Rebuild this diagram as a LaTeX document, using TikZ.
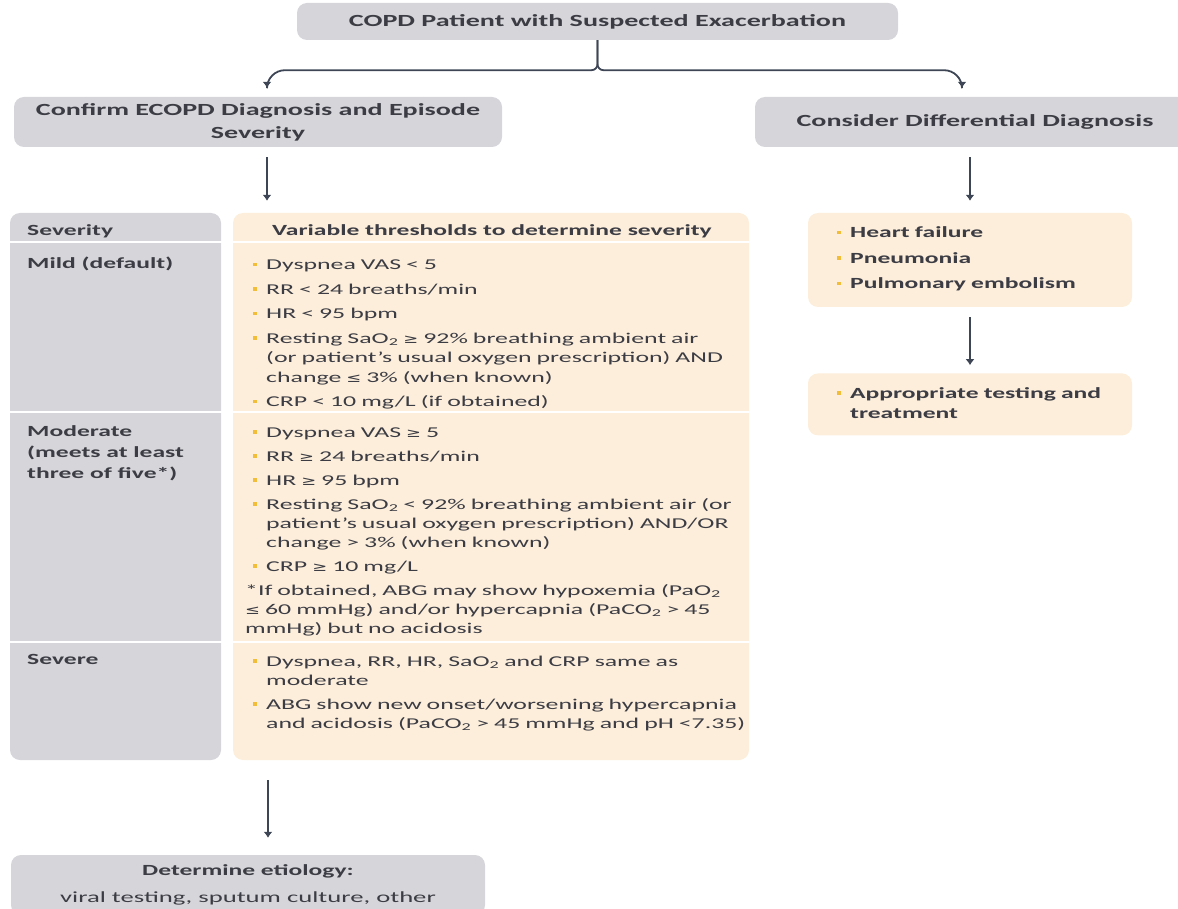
\documentclass[tikz,border=0pt]{standalone}
\usepackage{fontspec}
\setmainfont{Carlito}[FakeStretch=1.72]
\newfontfamily\cabfont{Carlito}[FakeStretch=1.65]
\newfontfamily\symb{DejaVu Sans}[FakeStretch=1.4, Scale=0.85]
\usetikzlibrary{arrows.meta,positioning}
\definecolor{grisCaja}{HTML}{D5D5DA}
\definecolor{beigeCaja}{HTML}{FCEEDA}
\definecolor{textoGris}{HTML}{3C3C44}
\definecolor{vineta}{HTML}{F2BE3A}
\definecolor{lineaOscura}{HTML}{3E4656}
\newcommand{\geqsym}{{\symb ≥}}
\newcommand{\leqsym}{{\symb ≤}}
\newcommand{\dos}{\textsubscript{2}}
\newcommand{\itm}[1]{\par\hangindent=15pt\hangafter=1\noindent\makebox[15pt][l]{\hspace{2pt}\textcolor{vineta}{\rule[3.5pt]{3.5pt}{3.5pt}}}#1}

\begin{document}
\begin{tikzpicture}[x=1pt, y=-1pt,
            node distance=66pt,
            grisbox/.style={fill=grisCaja, rounded corners=10pt, text=textoGris, align=center,
              font=\cabfont\bfseries\fontsize{17}{23}\selectfont},
            beigebox/.style={fill=beigeCaja, rounded corners=10pt},
            lista/.style={text width=520pt, align=left, inner sep=0pt, anchor=north west, text=textoGris,
              font=\fontsize{15}{19}\selectfont, execute at begin node={\setlength{\parskip}{5pt}}},
            etiqueta/.style={inner sep=0pt, anchor=north west, align=left, text=textoGris,
              font=\cabfont\bfseries\fontsize{15.5}{21}\selectfont},
            flecha/.style={-{Latex[length=6pt,width=9pt]}, line width=1.8pt, lineaOscura}
        ]
\useasboundingbox (0,0) rectangle (1178,909);
\clip (0,0) rectangle (1178,909);

% cajas grises de cabecera
\node[grisbox, minimum width=601, minimum height=37] (copd) at (597.5,21.5) {COPD Patient with Suspected Exacerbation};
\node[grisbox, minimum width=488, minimum height=50] (confirma) at (258,122) {Confirm ECOPD Diagnosis and Episode\\Severity};
\node[grisbox, minimum width=440, minimum height=50] (considera) at (975,122) {Consider Differential Diagnosis};

% tabla de severidad
\node[fill=grisCaja, rounded corners=10pt, minimum width=211, minimum height=547] (sevcol) at (115.5,486.5) {};
\node[beigebox, minimum width=516, minimum height=547] (umbral) at (491,486.5) {};
\foreach \y in {242,412,642}
  \draw[white, line width=2.5pt] (sevcol.west |- 0,\y) -- (umbral.east |- 0,\y);

\node[etiqueta] (tsev) at (27,224) {Severity};
\node[etiqueta, anchor=north] (tvar) at (492,224) {Variable thresholds to determine severity};
\node[etiqueta] (tleve) at (27,257) {Mild (default)};
\node[etiqueta] (tmod) at (27,425) {Moderate\\(meets at least\\three of five*)};
\node[etiqueta] (tsevero) at (27,654) {Severe};

\node[lista, font=\fontsize{15}{19.5}\selectfont] (leve) at (251,245) {%
\itm{Dyspnea VAS < 5}
\itm{RR < 24 breaths/min}
\itm{HR < 95 bpm}
\itm{Resting SaO\dos{} \geqsym{} 92\% breathing ambient air\newline (or patient's usual oxygen prescription) AND\newline change \leqsym{} 3\% (when known)}
\itm{CRP < 10 mg/L (if obtained)}\par};

\node[lista] (moderado) at (251,413) {%
\itm{Dyspnea VAS \geqsym{} 5}
\itm{RR \geqsym{} 24 breaths/min}
\itm{HR \geqsym{} 95 bpm}
\itm{Resting SaO\dos{} < 92\% breathing ambient air (or\newline patient's usual oxygen prescription) AND/OR\newline change > 3\% (when known)}
\itm{CRP \geqsym{} 10 mg/L}
\par{\leftskip=-6pt\noindent *If obtained, ABG may show hypoxemia (PaO\dos\newline
\leqsym{} 60 mmHg) and/or hypercapnia (PaCO\dos{} > 45\newline mmHg) but no acidosis\par}};

\node[lista] (severo) at (251,642) {%
\itm{Dyspnea, RR, HR, SaO\dos{} and CRP same as\newline moderate}
\itm{ABG show new onset/worsening hypercapnia\newline and acidosis (PaCO\dos{} > 45 mmHg and pH <7.35)}\par};

% diagnostico diferencial
\node[beigebox, minimum width=324, minimum height=94] (difdx) at (970,260) {};
\node[lista, text width=300pt, font=\cabfont\bfseries\fontsize{15.5}{20}\selectfont,
      execute at begin node={\setlength{\parskip}{5.5pt}}] (causas) at (835,212) {%
\itm{Heart failure}
\itm{Pneumonia}
\itm{Pulmonary embolism}\par};
\node[beigebox, minimum width=324, minimum height=62, below=66pt of difdx] (prueba) {};
\node[lista, text width=300pt, font=\cabfont\bfseries\fontsize{15.5}{20}\selectfont] (tprueba) at (835,373) {%
\itm{Appropriate testing and\newline treatment}\par};

% etiologia
\node[fill=grisCaja, rounded corners=10pt, minimum width=474, minimum height=60, text=textoGris, align=center,
      font=\fontsize{15.5}{27}\selectfont] (etiol) at (248,885)
      {{\cabfont\bfseries Determine etiology:}\\viral testing, sputum culture, other};

% conectores
\draw[flecha, shorten >=9pt] (copd.south) [rounded corners=6pt] -- ++(0,30) [rounded corners=18pt] -| ([xshift=9pt]confirma.north);
\draw[flecha, shorten >=9pt] (copd.south) [rounded corners=6pt] -- ++(0,30) [rounded corners=18pt] -| ([xshift=-13pt]considera.north);
\draw[flecha, shorten <=10pt, shorten >=12pt] ([xshift=9pt]confirma.south) -- ([xshift=9pt]confirma.south |- umbral.north);
\draw[flecha, shorten <=10pt, shorten >=12pt] (difdx.north |- considera.south) -- (difdx.north);
\draw[flecha, shorten <=10pt, shorten >=8pt] (difdx.south) -- (prueba.north);
\draw[flecha, shorten <=20pt, shorten >=17pt] ([xshift=20pt]etiol.north |- umbral.south) -- ([xshift=20pt]etiol.north);
\end{tikzpicture}
\end{document}
